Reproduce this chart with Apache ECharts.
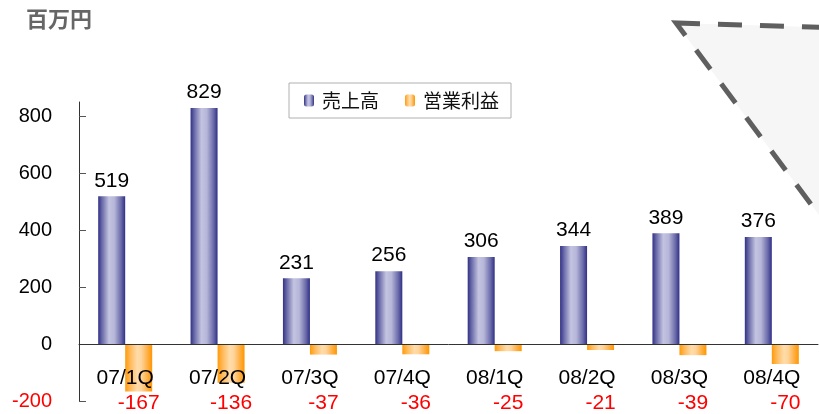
<!DOCTYPE html>
<html>
<head>
<meta charset="utf-8">
<script src="https://cdn.jsdelivr.net/npm/echarts@6/dist/echarts.min.js"></script>
<style>
  html, body { margin: 0; padding: 0; background: #fff; }
  #chart { width: 819px; height: 414px; }
</style>
</head>
<body>
<div id="chart"></div>
<script>
// Quarterly results (million yen)
const quarters = ['07/1Q', '07/2Q', '07/3Q', '07/4Q', '08/1Q', '08/2Q', '08/3Q', '08/4Q'];
const sales = [519, 829, 231, 256, 306, 344, 389, 376];
const operatingIncome = [-167, -136, -37, -36, -25, -21, -39, -70];
const yTicks = [-200, 0, 200, 400, 600, 800];
const unitLabel = '百万円';
const seriesNames = ['売上高', '営業利益'];

const latin = '"Liberation Sans", Arial, "Noto Sans CJK JP", sans-serif';
const cjk = '"Noto Sans CJK JP", "Liberation Sans", sans-serif';

const gridTop = 102;
const gridBottom = 13;
const yMin = -200;
const yMax = 850;
const plotHeight = 414 - gridTop - gridBottom;
// distance from the bottom of the plot up to the zero line
const zeroLift = plotHeight * (0 - yMin) / (yMax - yMin);

const salesFill = new echarts.graphic.LinearGradient(0, 0, 1, 0, [
  { offset: 0, color: '#313186' },
  { offset: 0.15, color: '#6c6caa' },
  { offset: 0.4, color: '#c3c3e1' },
  { offset: 0.6, color: '#b6b6d9' },
  { offset: 0.85, color: '#6a6aa9' },
  { offset: 1, color: '#2f2f87' }
]);
const incomeFill = new echarts.graphic.LinearGradient(0, 0, 1, 0, [
  { offset: 0, color: '#ff9a0a' },
  { offset: 0.2, color: '#ffbb5e' },
  { offset: 0.45, color: '#ffdcaa' },
  { offset: 0.6, color: '#ffd49a' },
  { offset: 0.85, color: '#ffab3a' },
  { offset: 1, color: '#ff9600' }
]);

const chart = echarts.init(document.getElementById('chart'), null, { renderer: 'canvas' });

chart.setOption({
  animation: false,
  backgroundColor: '#ffffff',
  graphic: [
    {
      type: 'polygon',
      z: -1,
      shape: { points: [[676, 23], [880, 29], [880, 297]] },
      style: { fill: '#f6f6f6', stroke: '#5f5f5f', lineWidth: 5, lineDash: [24, 18] }
    },
    {
      type: 'text',
      left: 26,
      top: 8,
      style: { text: unitLabel, font: 'bold 22px ' + cjk, fill: '#666666' }
    }
  ],
  legend: {
    left: 289,
    top: 83,
    padding: [8, 12, 8, 15],
    itemWidth: 10,
    itemHeight: 12,
    itemGap: 26,
    borderColor: '#b0b0b0',
    borderWidth: 1,
    textStyle: { fontFamily: cjk, fontSize: 19, color: '#111', padding: [0, 0, 0, 3] },
    data: seriesNames
  },
  grid: { left: 79, right: 1, top: gridTop, bottom: gridBottom, containLabel: false, outerBoundsMode: 'none' },
  xAxis: {
    type: 'category',
    data: quarters,
    z: 10,
    position: 'bottom',
    offset: -zeroLift,
    axisLine: { onZero: false, lineStyle: { color: '#333', width: 1 } },
    axisTick: { inside: true, length: 7, lineStyle: { color: '#333' } },
    axisLabel: { margin: 24, fontFamily: latin, fontSize: 21, color: '#000' },
    splitLine: { show: false }
  },
  yAxis: {
    type: 'value',
    min: yMin,
    max: yMax,
    interval: 200,
    axisLine: { show: true, lineStyle: { color: '#333', width: 1 } },
    axisTick: { show: true, inside: true, length: 7, customValues: yTicks, lineStyle: { color: '#555' } },
    axisLabel: {
      customValues: yTicks,
      margin: 27,
      fontFamily: latin,
      fontSize: 20,
      color: function (v) { return v < 0 ? '#ff0000' : '#000000'; }
    },
    splitLine: { show: false }
  },
  series: [
    {
      name: seriesNames[0],
      type: 'bar',
      data: sales,
      barWidth: 27,
      barGap: '0%',
      itemStyle: { color: salesFill },
      label: { show: true, position: 'top', distance: 5, fontFamily: latin, fontSize: 21, color: '#000' }
    },
    {
      name: seriesNames[1],
      type: 'bar',
      data: operatingIncome,
      barWidth: 27,
      barGap: '0%',
      itemStyle: { color: incomeFill },
      label: { show: true, position: 'bottom', fontFamily: latin, fontSize: 21, color: '#ff0000' },
      labelLayout: function (p) {
        return { x: p.rect.x + p.rect.width / 2, y: 403, align: 'center', verticalAlign: 'middle' };
      }
    }
  ]
});
</script>
</body>
</html>
